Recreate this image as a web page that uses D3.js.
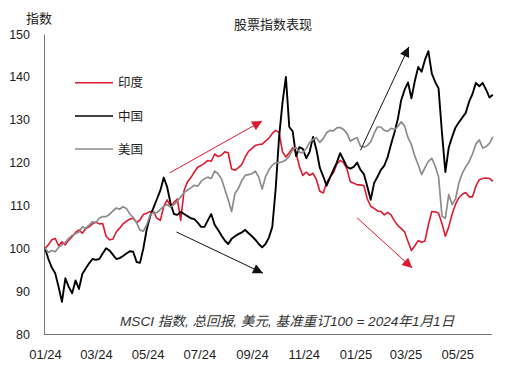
<!DOCTYPE html>
<html><head><meta charset="utf-8">
<script src="https://cdn.jsdelivr.net/npm/d3@7"></script>
<style>
body{margin:0;background:#fff;}
svg text{font-family:"Liberation Sans",Arial,"Noto Sans CJK SC",sans-serif;fill:#222;}
</style></head><body>
<svg id="c" width="506" height="370"></svg>
<script>
const title = "股票指数表现";
const yLabel = "指数";
const note = "MSCI 指数, 总回报, 美元, 基准重订100 = 2024年1月1日";
const seriesNames = ["印度", "中国", "美国"];
const seriesColors = ["#dc1a30", "#000000", "#8c8c8c"];
// sampling grid: one observation every 4 days from 2024-01-01
const startDate = "2024-01-01";
const stepDays = 4;
const india = [100,100.8,102,102.3,100.6,101.5,100.8,101.9,102.7,103.7,
104.3,103.5,104.6,105,105.7,106.1,105.7,105.8,102.8,102,
102.1,103.8,104.7,105.7,106.3,106.8,107,106,106.6,107.9,
108.2,108.6,108.5,107,106.5,109.8,111.3,109.7,110.7,111.5,
106.5,113.5,115.5,116.5,117.8,118.9,119.3,119.8,120.5,120.3,
122,121.4,121.7,122.5,122.3,118.5,118.2,118.8,119.5,121.3,
122.6,123.3,124,124.2,124.3,125,125.7,126.8,127.5,127,
122.5,121.3,122.3,123.5,122.3,119,117,117.8,117,117.5,
116,113.3,112.9,115.3,116.6,117.6,119.6,120.5,120,118.5,
115.5,115.2,114.8,114.8,114.6,111.5,109.8,109.3,108.7,108.6,
107.8,108.4,107.8,106.4,105.3,104.6,103.8,101.6,99.5,100.6,
101.8,101.4,101.7,105.5,108.6,108.5,108.2,105.8,102.8,105,
108,110.3,111.8,112.6,113,112,112,114.5,116,116.3,
116.4,116.3,115.6];
const china = [100,97.5,95.5,94.2,91,87.5,93,91,89.5,92.5,
90.5,94,95.3,96.5,97.5,97.3,97.5,98.8,100,99.5,
98.5,97.5,97.7,98.2,98.8,99.3,99.2,96.8,96.6,100,
104.5,107.5,109.5,111.5,113.5,116.5,114.3,110.5,108,107.8,
108.5,108,107.5,107,106.8,106,105,105,106.5,108,
105.5,104.3,103,101.8,101,102.2,102.8,103.3,103.7,104.3,
103.5,102.8,102,101,100.2,101,102.5,105,114,126,
134,140,128.3,127.3,121.5,123.6,123.2,121,122.5,126,
123,118.8,116.8,114.6,116.5,118.3,120,122.2,120.6,119,
118.6,119,120,118.3,117.3,114.4,111.3,115.2,116.7,118.3,
119.3,121.3,124.3,127,130.2,134.6,137,138.7,135,139,
142.3,141.2,144,146,140.8,138.8,137.3,127,117.8,123.5,
126,128.2,129.4,130.5,131.6,134.2,136,138.6,137.8,138.6,
137,135.2,135.8];
const usa = [100,99,99.5,99.2,100.2,100.8,101.4,102.3,103,103.4,
103.8,105,104.7,105.4,106.2,106,107,107.4,107.4,107.9,
108.7,109.4,109.1,109.7,109.3,108,107.2,106,104.2,104,
105.5,107.8,108.4,108.3,109.1,109.8,110.2,109.6,110.2,111,
112,113,113.6,114.1,114.7,114.5,115.6,116.2,116.6,116.3,
118,117.4,116.2,113.8,111.3,108.6,112.8,114,115.8,117,
117.2,117.4,118,116.6,113.8,116.7,118.3,119.4,120,120,
120.2,120.6,121.5,123,123.5,122.4,122.3,123.3,124.7,125.4,
125.8,124.7,125.6,127,127.5,127.4,128.1,128.2,127.7,126.8,
125,125.5,125.8,123.8,123.6,124,124.8,126.8,128.3,128.3,
127.5,127.3,128,127.7,128.4,129.5,128.5,125.8,124.2,121.5,
119.5,117.2,118.8,120.3,121,119.2,116.7,107.5,107,112.5,
110.2,111.5,115.3,117.5,119,120.2,122,124.3,125.3,123.4,
123.7,124.5,126];
const yTicks = [80, 90, 100, 110, 120, 130, 140, 150];
const xTicks = ["2024-01-01","2024-03-01","2024-05-01","2024-07-01","2024-09-01","2024-11-01","2025-01-01","2025-03-01","2025-05-01"];
const xDomain = ["2024-01-01", "2025-06-11"];
const arrowStarts = [["2024-05-27",117.6],["2024-06-04",103.8],["2025-01-07",122.9],["2025-01-03",107.1]];
const arrowEnds   = [["2024-09-13",129.7],["2024-09-14",94.2],["2025-03-05",147.0],["2025-03-09",95.4]];
const arrowColors = ["#dc1a30","#111111","#111111","#dc1a30"];

const parse = d3.utcParse("%Y-%m-%d");
const t0 = parse(startDate);
const dates = india.map((_, i) => d3.utcDay.offset(t0, i * stepDays));
const seriesValues = [india, china, usa];

const svg = d3.select("#c");
const x = d3.scaleUtc().domain(xDomain.map(parse)).range([45, 492]);
const y = d3.scaleLinear().domain([80, 150]).range([334, 34]);

// axes
const yAxis = svg.append("g").attr("transform", "translate(44,0)")
  .call(d3.axisLeft(y).tickValues(yTicks).tickSize(0).tickPadding(14).tickFormat(d3.format("d")));
yAxis.select(".domain").attr("stroke", "#777").attr("stroke-width", 1);
yAxis.selectAll("text").attr("font-size", 12.5).style("fill", "#222");

const xAxis = svg.append("g").attr("transform", "translate(0,334)")
  .call(d3.axisBottom(x).tickValues(xTicks.map(parse)).tickSize(0).tickPadding(16).tickFormat(d3.utcFormat("%m/%y")));
xAxis.select(".domain").attr("stroke", "#777").attr("stroke-width", 1).attr("d", "M44,0.5H492");
xAxis.selectAll("text").attr("font-size", 13).style("fill", "#222");

// lines
const widths = [1.6, 1.9, 1.7];
seriesValues.forEach((vals, k) => {
  const line = d3.line().x((d, i) => x(dates[i])).y(d => y(d));
  svg.append("path").datum(vals).attr("d", line)
    .attr("fill", "none").attr("stroke", seriesColors[k])
    .attr("stroke-width", widths[k]).attr("stroke-linejoin", "round");
});

// arrows
const defs = svg.append("defs");
arrowColors.forEach((c, i) => {
  defs.append("marker").attr("id", "ah" + i)
    .attr("viewBox", "0 0 10 10").attr("refX", 10).attr("refY", 5)
    .attr("markerWidth", 11).attr("markerHeight", 10).attr("markerUnits", "userSpaceOnUse")
    .attr("orient", "auto")
    .append("path").attr("d", "M0,0L10,5L0,10Z").attr("fill", c);
});
arrowStarts.forEach((s, i) => {
  const e = arrowEnds[i];
  svg.append("line")
    .attr("x1", x(parse(s[0]))).attr("y1", y(s[1]))
    .attr("x2", x(parse(e[0]))).attr("y2", y(e[1]))
    .attr("stroke", arrowColors[i]).attr("stroke-width", 1)
    .attr("marker-end", "url(#ah" + i + ")");
});

// legend
const legY = [82.7, 116, 149];
seriesNames.forEach((n, k) => {
  svg.append("line").attr("x1", 75).attr("x2", 113).attr("y1", legY[k]).attr("y2", legY[k])
    .attr("stroke", seriesColors[k]).attr("stroke-width", 1.6);
  svg.append("text").attr("x", 118).attr("y", legY[k]).attr("dy", "0.36em")
    .attr("font-size", 12.5).text(n);
});

// texts
svg.append("text").attr("x", 273).attr("y", 29).attr("text-anchor", "middle")
  .attr("font-size", 13).text(title);
svg.append("text").attr("x", 26).attr("y", 22.5).attr("font-size", 13).text(yLabel);
svg.append("text").attr("x", 120).attr("y", 325.5).attr("font-size", 13.6)
  .attr("font-style", "italic").style("fill", "#333").text(note);
</script>
</body></html>
